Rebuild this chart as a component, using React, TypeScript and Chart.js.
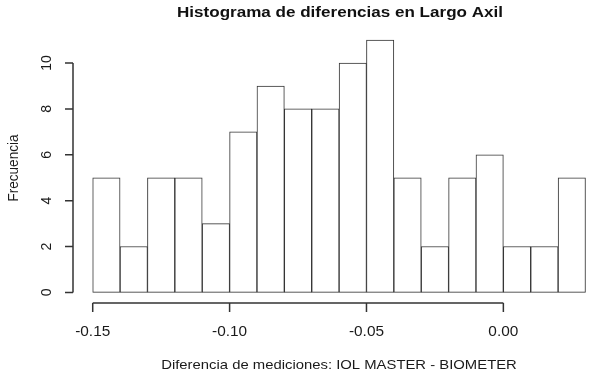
import React, { useEffect, useRef } from "react";
import { Chart, registerables } from "chart.js";

Chart.register(...registerables);

const binStarts = [-0.15, -0.14, -0.13, -0.12, -0.11, -0.10, -0.09, -0.08, -0.07, -0.06, -0.05, -0.04, -0.03, -0.02, -0.01, 0.0, 0.01, 0.02];
const counts = [5, 2, 5, 5, 3, 7, 9, 8, 8, 10, 11, 5, 2, 5, 6, 2, 2, 5];
const binWidth = 0.01;
const xTicks = [-0.15, -0.1, -0.05, 0.0];
const xTickLabels = ["-0.15", "-0.10", "-0.05", "0.00"];
const yTicks = [0, 2, 4, 6, 8, 10];
const title = "Histograma de diferencias en Largo Axil";
const xTitle = "Diferencia de mediciones: IOL MASTER - BIOMETER";
const yTitle = "Frecuencia";

const FONT = "'Liberation Sans', Arial, sans-serif";
const INK = "#333333";
const SX = 1.1;

function stretchedText(ctx: any, text: string, x: number, y: number) {
  ctx.save();
  ctx.translate(x, y);
  ctx.scale(SX, 1);
  ctx.fillText(text, 0, 0);
  ctx.restore();
}

const rAxesPlugin = {
  id: "rAxes",
  afterDraw(chart: any) {
    const ctx = chart.ctx;
    const xs = chart.scales.x;
    const ys = chart.scales.y;
    const area = chart.chartArea;
    ctx.save();
    ctx.strokeStyle = INK;
    ctx.fillStyle = "#1a1a1a";
    ctx.lineWidth = 1.5;
    // x axis
    const axY = area.bottom + 0.5;
    const x0 = xs.getPixelForValue(xTicks[0]);
    const x1 = xs.getPixelForValue(xTicks[xTicks.length - 1]);
    ctx.beginPath();
    ctx.moveTo(x0, axY);
    ctx.lineTo(x1, axY);
    xTicks.forEach((t) => {
      const px = xs.getPixelForValue(t);
      ctx.moveTo(px, axY);
      ctx.lineTo(px, axY + 9);
    });
    ctx.stroke();
    ctx.font = `14px ${FONT}`;
    ctx.textAlign = "center";
    ctx.textBaseline = "middle";
    xTicks.forEach((t, i) => {
      stretchedText(ctx, xTickLabels[i], xs.getPixelForValue(t), 332);
    });
    // y axis
    const axX = area.left;
    const y0 = ys.getPixelForValue(yTicks[0]);
    const y1 = ys.getPixelForValue(yTicks[yTicks.length - 1]);
    ctx.beginPath();
    ctx.moveTo(axX, y0);
    ctx.lineTo(axX, y1);
    yTicks.forEach((t) => {
      const py = ys.getPixelForValue(t);
      ctx.moveTo(axX, py);
      ctx.lineTo(axX - 8, py);
    });
    ctx.stroke();
    yTicks.forEach((t) => {
      const py = ys.getPixelForValue(t);
      ctx.save();
      ctx.translate(47, py);
      ctx.rotate(-Math.PI / 2);
      ctx.scale(1, SX);
      ctx.fillText(String(t), 0, 0);
      ctx.restore();
    });
    // titles
    ctx.font = `13.5px ${FONT}`;
    stretchedText(ctx, xTitle, 339, 365);
    ctx.save();
    ctx.translate(14, 168);
    ctx.rotate(-Math.PI / 2);
    ctx.scale(1, SX);
    ctx.fillText(yTitle, 0, 0);
    ctx.restore();
    ctx.font = `bold 15.5px ${FONT}`;
    ctx.fillStyle = "#111";
    stretchedText(ctx, title, 340, 13);
    ctx.restore();
  },
};

export default function App() {
  const ref = useRef<HTMLCanvasElement | null>(null);
  useEffect(() => {
    document.body.style.margin = "0";
    const canvas = ref.current!;
    const chart = new Chart(canvas, {
      type: "bar",
      data: {
        datasets: [
          {
            data: binStarts.map((s, i) => ({ x: s + binWidth / 2, y: counts[i] })),
            backgroundColor: "#ffffff",
            borderColor: INK,
            borderWidth: 1,
            borderSkipped: false,
            barPercentage: 1,
            categoryPercentage: 1,
          },
        ],
      },
      options: {
        responsive: false,
        animation: false,
        layout: { padding: { left: 73, right: 0, top: 30, bottom: 78.5 } },
        plugins: { legend: { display: false }, tooltip: { enabled: false }, title: { display: false } },
        scales: {
          x: { type: "linear", min: -0.1572, max: 0.0353, display: false, offset: false },
          y: { type: "linear", min: -0.44, max: 11.44, display: false },
        },
      },
      plugins: [rAxesPlugin],
    });
    return () => chart.destroy();
  }, []);
  return <canvas ref={ref} width={600} height={381} style={{ display: "block" }} />;
}
